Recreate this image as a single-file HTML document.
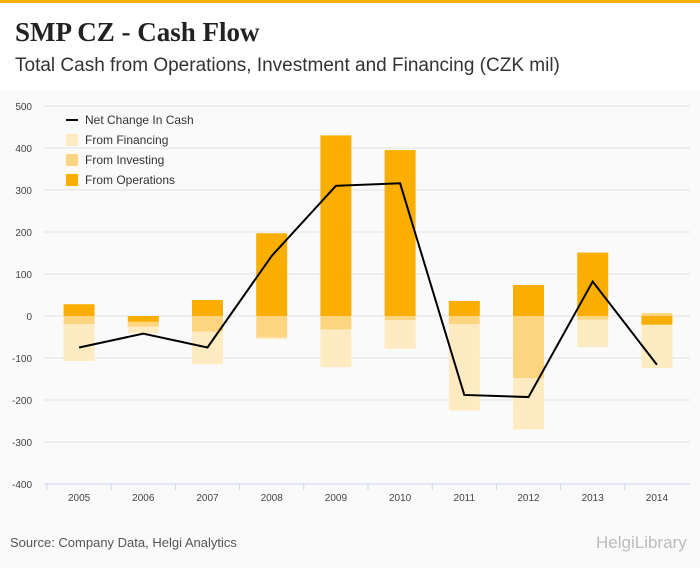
<!DOCTYPE html>
<html><head><meta charset="utf-8"><style>
body{margin:0;width:700px;height:568px;background:#fafafa;font-family:"Liberation Serif",serif;overflow:hidden;position:relative}
#hdr{position:absolute;left:0;top:0;width:700px;height:90px;background:#fff;border-top:3px solid #f9ae00;box-sizing:border-box}
#title{position:absolute;left:15px;top:14px;font-size:27px;font-weight:bold;color:#222}
#sub{position:absolute;left:15px;top:52px;font-size:19px;color:#333;font-family:"Liberation Sans",sans-serif}
#src{position:absolute;left:10px;top:535px;font-size:13px;color:#555;font-family:"Liberation Sans",sans-serif}
#logo{position:absolute;left:596px;top:533px;font-size:17px;color:#bbb;font-family:"Liberation Sans",sans-serif}
svg{position:absolute;left:0;top:0}
</style></head><body>
<div id="hdr">
<div id="title">SMP CZ - Cash Flow</div>
<div id="sub">Total Cash from Operations, Investment and Financing (CZK mil)</div>
</div>
<svg id="chart" width="700" height="568"></svg>
<div id="src">Source: Company Data, Helgi Analytics</div>
<div id="logo">HelgiLibrary</div>
<script>
const years=["2005","2006","2007","2008","2009","2010","2011","2012","2013","2014"];
const operations=[28,-14,38,197,430,395,36,74,151,-21];
const investing=[-19,-11,-37,-51,-32,-10,-19,-148,-9,7];
const financing=[-88,-16,-78,-4,-90,-68,-206,-122,-65,-103];
const netChange=[-75,-42,-75,143,310,316,-188,-193,82,-116];
const yTicks=[500,400,300,200,100,0,-100,-200,-300,-400];
const svg=document.getElementById('chart');
const NS='http://www.w3.org/2000/svg';
const x0=47,x1=689,yTop=106,yBot=484;
const y=v=>yTop+(500-v)*(yBot-yTop)/900;
const bw=(x1-x0)/years.length;
const xc=i=>x0+bw*(i+0.5);
function mk(t,a){const e=document.createElementNS(NS,t);for(const k in a)e.setAttribute(k,a[k]);svg.appendChild(e);return e;}
yTicks.forEach(t=>{
 const g=mk('line',{x1:44,x2:690,y1:y(t),y2:y(t),stroke:'#e3e3e3','stroke-width':1});
 
 
 const l=mk('text',{x:32,y:y(t)+4,'text-anchor':'end','font-size':10,fill:'#444','font-family':'Liberation Sans'});
 l.textContent=t;
 
 
});
const cols={op:'#f9ae00',inv:'#fdd580',fin:'#feebc1'};
const bwid=31;
years.forEach((yr,i)=>{
 let pos=0,neg=0;
 [[operations[i],cols.op,'bar-operations'],[investing[i],cols.inv,'bar-investing'],[financing[i],cols.fin,'bar-financing']].forEach(([v,c,n])=>{
  let a,b;
  if(v>=0){a=pos;b=pos+v;pos=b;}else{a=neg;b=neg+v;neg=b;}
  const r=mk('rect',{x:xc(i)-bwid/2,y:Math.min(y(a),y(b)),width:bwid,height:Math.abs(y(a)-y(b)),fill:c});
  
  
 });
 const l=mk('text',{x:xc(i),y:501,'text-anchor':'middle','font-size':10,fill:'#444','font-family':'Liberation Sans'});
 l.textContent=yr;
 
 
 const tk=mk('line',{x1:x0+bw*i,x2:x0+bw*i,y1:yBot,y2:yBot+6,stroke:'#ccd6eb'});
 
 
});
const ax=mk('line',{x1:44,x2:690,y1:yBot,y2:yBot,stroke:'#ccd6eb'});


const ln=mk('polyline',{points:netChange.map((v,i)=>xc(i)+','+y(v)).join(' '),fill:'none',stroke:'#000','stroke-width':2});


const leg=[['Net Change In Cash',null],['From Financing',cols.fin],['From Investing',cols.inv],['From Operations',cols.op]];
leg.forEach(([t,c],i)=>{
 const yy=120+i*20;
 if(c){const r=mk('rect',{x:66,y:yy-6,width:12,height:12,fill:c});
  
  }
 else{const l=mk('line',{x1:66,x2:78,y1:yy,y2:yy,stroke:'#000','stroke-width':2});
  
  }
 const tx=mk('text',{x:85,y:yy+4,'font-size':12,fill:'#333','font-family':'Liberation Sans'});
 tx.textContent=t;
 
 
});
</script>
</body></html>
